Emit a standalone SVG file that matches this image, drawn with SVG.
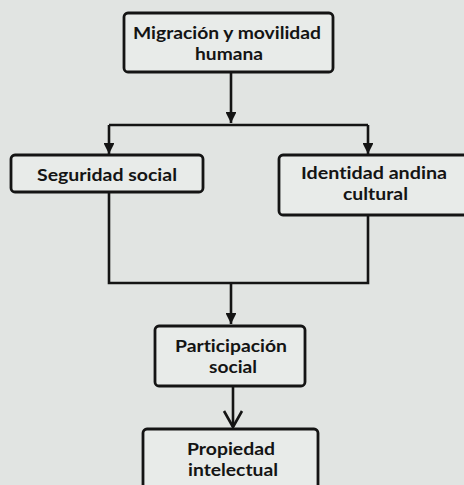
<svg xmlns="http://www.w3.org/2000/svg" width="464" height="485" viewBox="0 0 464 485">
<defs>
<style>
.box{fill:#e8ebe9;stroke:#141414;stroke-width:2.8}
.ln{fill:none;stroke:#141414;stroke-width:2.6}
.t{font-family:Lato,"Liberation Sans",sans-serif;font-weight:700;font-size:17px;fill:#141414;text-anchor:middle;font-variant-ligatures:none}
</style>
<marker id="ah" viewBox="0 0 10 10" refX="10" refY="5" markerWidth="4.2" markerHeight="4.2" orient="auto" markerUnits="strokeWidth">
<path d="M0,0 L10,5 L0,10 Z" fill="#141414"/>
</marker>
</defs>
<rect width="464" height="485" fill="#e1e4e2"/>
<g id="connectors">
<path class="ln" d="M231,73 V123" marker-end="url(#ah)"/>
<path class="ln" d="M109,125 H368"/>
<path class="ln" d="M109,125 V154" marker-end="url(#ah)"/>
<path class="ln" d="M368,125 V154" marker-end="url(#ah)"/>
<path class="ln" d="M109,192 V283 H368 V215"/>
<path class="ln" d="M231,283 V324" marker-end="url(#ah)"/>
<path class="ln" d="M233,386 V427"/>
<path class="ln" d="M224,411 L233,427 L242,411"/>
</g>
<g id="n1">
<rect class="box" x="124" y="13" width="209" height="59" rx="4"/>
<text class="t" x="227" y="39" textLength="188" lengthAdjust="spacingAndGlyphs">Migración y movilidad</text>
<text class="t" x="229" y="60" textLength="68" lengthAdjust="spacingAndGlyphs">humana</text>
</g>
<g id="n2">
<rect class="box" x="11" y="155" width="192" height="37" rx="4"/>
<text class="t" x="107" y="181" textLength="140" lengthAdjust="spacingAndGlyphs">Seguridad social</text>
</g>
<g id="n3">
<rect class="box" x="279" y="155" width="192" height="60" rx="4"/>
<text class="t" x="374" y="179" textLength="146" lengthAdjust="spacingAndGlyphs">Identidad andina</text>
<text class="t" x="375.5" y="200" textLength="65" lengthAdjust="spacingAndGlyphs">cultural</text>
</g>
<g id="n4">
<rect class="box" x="155" y="326" width="150" height="60" rx="4"/>
<text class="t" x="231" y="352" textLength="112" lengthAdjust="spacingAndGlyphs">Participación</text>
<text class="t" x="233" y="373" textLength="48" lengthAdjust="spacingAndGlyphs">social</text>
</g>
<g id="n5">
<rect class="box" x="143" y="429" width="175" height="70" rx="4"/>
<text class="t" x="231" y="455" textLength="88" lengthAdjust="spacingAndGlyphs">Propiedad</text>
<text class="t" x="233" y="476" textLength="90" lengthAdjust="spacingAndGlyphs">intelectual</text>
</g>
</svg>
